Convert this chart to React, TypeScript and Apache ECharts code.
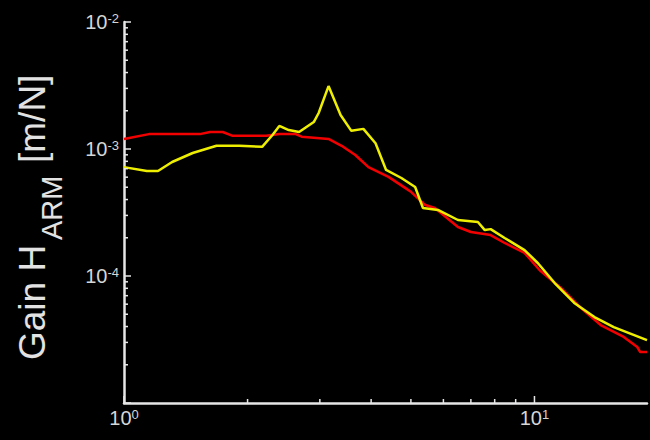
import React, { useEffect, useRef } from "react";
import * as echarts from "echarts";

// Frequency response, arm compliance (log-log)
const RED_FREQ = [
  1.0, 1.15, 1.53, 1.62, 1.74, 1.84, 2.22, 2.39, 2.62, 2.71, 3.15, 3.39, 3.66, 3.94, 4.41, 4.84,
  5.01, 5.42, 5.72, 6.51, 7.0, 7.82, 8.46, 9.46, 10.3, 11.6, 12.9, 14.5, 16.5, 17.8, 18.1, 18.8,
];
const RED_GAIN = [
  1.2e-3, 1.31e-3, 1.31e-3, 1.36e-3, 1.36e-3, 1.27e-3, 1.27e-3, 1.31e-3, 1.31e-3, 1.25e-3, 1.2e-3,
  1.06e-3, 8.97e-4, 7.2e-4, 6.03e-4, 4.94e-4, 4.58e-4, 3.62e-4, 3.43e-4, 2.43e-4, 2.22e-4, 2.1e-4,
  1.82e-4, 1.52e-4, 1.11e-4, 8.05e-5, 5.7e-5, 4.11e-5, 3.31e-5, 2.76e-5, 2.52e-5, 2.52e-5,
];

const YELLOW_FREQ = [
  1.0, 1.137, 1.21, 1.31, 1.47, 1.68, 1.91, 2.17, 2.3, 2.39, 2.52, 2.67, 2.9, 2.98, 3.15, 3.37,
  3.58, 3.83, 4.1, 4.35, 4.74, 5.12, 5.35, 5.82, 6.51, 7.28, 7.57, 7.82, 8.46, 9.46, 10.2, 11.2,
  12.5, 14.0, 15.6, 18.8,
];
const YELLOW_GAIN = [
  7.2e-4, 6.71e-4, 6.71e-4, 7.9e-4, 9.3e-4, 1.06e-3, 1.06e-3, 1.04e-3, 1.29e-3, 1.52e-3, 1.41e-3,
  1.36e-3, 1.63e-3, 1.92e-3, 3.13e-3, 1.85e-3, 1.39e-3, 1.44e-3, 1.11e-3, 6.84e-4, 5.91e-4,
  5.02e-4, 3.43e-4, 3.31e-4, 2.76e-4, 2.66e-4, 2.3e-4, 2.34e-4, 1.99e-4, 1.6e-4, 1.26e-4, 8.8e-5,
  6.13e-5, 4.75e-5, 3.96e-5, 3.13e-5,
];

// Axis ranges and tick values
const X_MIN = 1;
const X_MAX = 18.8;
const Y_MIN = 1e-5;
const Y_MAX = 1e-2;
const X_MAJOR = [1, 10];
const X_MINOR = [2, 3, 4, 5, 6, 7, 8, 9];
const Y_MAJOR = [1e-5, 1e-4, 1e-3, 1e-2];
const Y_DECADES = [1e-5, 1e-4, 1e-3];
const MANTISSAS = [2, 3, 4, 5, 6, 7, 8, 9];

// Axis title pieces: main text, subscript, unit
const TITLE_MAIN = "Gain H";
const TITLE_SUB = "ARM";
const TITLE_UNIT = "[m/N]";

const FONT = "'Liberation Sans', Arial, sans-serif";
const AXIS_COLOR = "#e6e6e6";
const LABEL_COLOR = "#d6d6d6";
const TITLE_COLOR = "#e2e2e2";

const zip = (xs: number[], ys: number[]) => xs.map((x, i) => [x, ys[i]]);

function powerLabel(v: number): string {
  const e = Math.log10(v);
  if (Math.abs(e - Math.round(e)) > 1e-6) return "";
  return `{m|10}{s|${Math.round(e)}}`;
}

const labelRich = {
  m: { fontSize: 20, lineHeight: 20, padding: [9, 0, 9, 0], color: LABEL_COLOR, fontFamily: FONT },
  s: { fontSize: 13, lineHeight: 13, verticalAlign: "top", color: LABEL_COLOR, fontFamily: FONT },
};

function tickSeries(points: number[][], dx: number, dy: number) {
  return {
    type: "custom",
    silent: true,
    clip: false,
    z: 5,
    data: points,
    renderItem: (_params: any, api: any) => {
      const p = api.coord([api.value(0), api.value(1)]);
      return {
        type: "line",
        shape: { x1: p[0], y1: p[1], x2: p[0] + dx, y2: p[1] + dy },
        style: { stroke: AXIS_COLOR, lineWidth: 1.5 },
      };
    },
  };
}

function titleText(text: string, x: number, y: number, size: number) {
  return {
    type: "text",
    x,
    y,
    silent: true,
    style: {
      text,
      fontSize: size,
      fontFamily: FONT,
      fill: TITLE_COLOR,
      align: "left",
      verticalAlign: "middle",
    },
  };
}

export default function App() {
  const ref = useRef<HTMLDivElement>(null);

  useEffect(() => {
    if (!ref.current) return;
    const chart = echarts.init(ref.current, null, { renderer: "svg" });

    const yMinor: number[][] = [];
    Y_DECADES.forEach((d) => MANTISSAS.forEach((m) => yMinor.push([X_MIN, m * d])));

    chart.setOption({
      animation: false,
      backgroundColor: "#000000",
      grid: { left: 124, right: 0, top: 22, bottom: 37 },
      xAxis: {
        type: "log",
        logBase: 10,
        min: X_MIN,
        max: X_MAX,
        axisLine: { lineStyle: { color: AXIS_COLOR, width: 2.5 } },
        axisTick: { show: false },
        splitLine: { show: false },
        axisLabel: { formatter: powerLabel, margin: 5, rich: labelRich },
      },
      yAxis: {
        type: "log",
        logBase: 10,
        min: Y_MIN,
        max: Y_MAX,
        axisLine: { show: true, lineStyle: { color: AXIS_COLOR, width: 2.5 } },
        axisTick: { show: false },
        splitLine: { show: false },
        axisLabel: {
          formatter: (v: number) => (v <= Y_MIN * 1.0001 ? "" : powerLabel(v)),
          margin: 5,
          rich: labelRich,
        },
      },
      graphic: [
        {
          // rotated group: local x runs bottom-to-top, local y runs left-to-right
          type: "group",
          x: 0,
          y: 360,
          rotation: Math.PI / 2,
          children: [
            titleText(TITLE_MAIN, 0, 32, 37),
            titleText(TITLE_SUB, 120, 52, 29),
            titleText(TITLE_UNIT, 197, 32, 37),
          ],
        },
      ],
      series: [
        {
          type: "line",
          data: zip(RED_FREQ, RED_GAIN),
          showSymbol: false,
          lineStyle: { color: "#f20000", width: 2.5 },
          z: 2,
        },
        {
          type: "line",
          data: zip(YELLOW_FREQ, YELLOW_GAIN),
          showSymbol: false,
          lineStyle: { color: "#eeee00", width: 2.5 },
          z: 3,
        },
        tickSeries(X_MAJOR.map((v) => [v, Y_MIN]), 0, -7),
        tickSeries(X_MINOR.map((v) => [v, Y_MIN]), 0, -4),
        tickSeries(Y_MAJOR.map((v) => [X_MIN, v]), 7, 0),
        tickSeries(yMinor, 4, 0),
      ],
    });

    return () => chart.dispose();
  }, []);

  return (
    <div
      ref={ref}
      style={{ position: "fixed", left: 0, top: 0, width: 650, height: 440, background: "#000" }}
    />
  );
}
